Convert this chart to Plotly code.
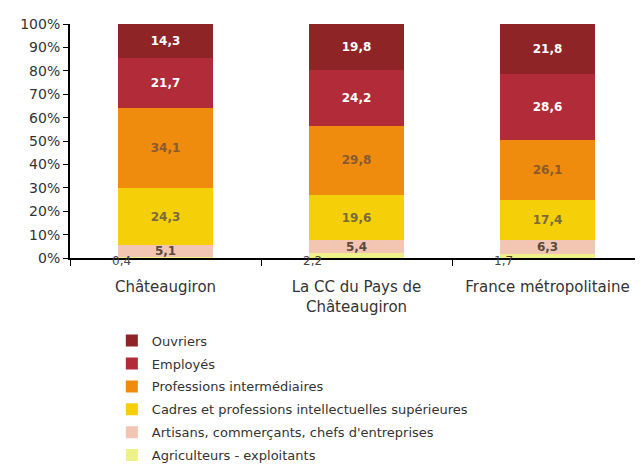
import plotly.graph_objects as go

# Données (en %)
categories = ["Châteaugiron", "La CC du Pays de<br>Châteaugiron", "France métropolitaine"]
agriculteurs = [0.4, 2.2, 1.7]
artisans = [5.1, 5.4, 6.3]
cadres = [24.3, 19.6, 17.4]
prof_inter = [34.1, 29.8, 26.1]
employes = [21.7, 24.2, 28.6]
ouvriers = [14.3, 19.8, 21.8]

series = [
    ("Agriculteurs - exploitants", agriculteurs, "#eef08a", "#555555"),
    ("Artisans, commerçants, chefs d'entreprises", artisans, "#f3c6b3", "#5a4a3a"),
    ("Cadres et professions intellectuelles supérieures", cadres, "#f5cf08", "#7a6a3a"),
    ("Professions intermédiaires", prof_inter, "#ef8b0d", "#8a5a30"),
    ("Employés", employes, "#b12b38", "white"),
    ("Ouvriers", ouvriers, "#8e2426", "white"),
]

FONT = "DejaVu Sans, Arial, sans-serif"

def fmt(v):
    return f"{v:.1f}".replace(".", ",")

fig = go.Figure()
for i, (name, vals, color, tcolor) in enumerate(series):
    fig.add_trace(go.Bar(
        name=name,
        x=categories,
        y=vals,
        marker=dict(color=color, line=dict(width=0)),
        text=[fmt(v) for v in vals],
        textposition="none" if i == 0 else "inside",
        insidetextanchor="middle",
        textangle=0,
        constraintext="none",
        textfont=dict(size=12, color=tcolor, family=FONT, weight="bold"),
        legendgroup=str(i),
        legendrank=len(series) - i,
    ))

# petites valeurs agriculteurs sous l'axe
for cat, v in zip(categories, agriculteurs):
    fig.add_annotation(
        x=cat, y=0, text=fmt(v), showarrow=False,
        xshift=-44, yshift=-3,
        font=dict(size=12, color="#444444", family=FONT),
    )

fig.update_layout(
    width=643, height=472,
    barmode="stack",
    barnorm="percent",
    bargap=0.5,
    paper_bgcolor="white",
    plot_bgcolor="white",
    font=dict(family=FONT, color="#333333", size=12),
    margin=dict(l=62, r=8, t=11, b=222),
    showlegend=True,
    legend=dict(
        traceorder="grouped",
        orientation="v",
        xref="paper", x=0.073, xanchor="left",
        yref="container", y=0.327, yanchor="top",
        font=dict(size=13, color="#333333", family=FONT),
        tracegroupgap=3,
        itemwidth=30,
    ),
    xaxis=dict(
        showline=True, linecolor="black", linewidth=2,
        ticks="outside", tickson="boundaries", ticklen=6, tickcolor="black",
        tickfont=dict(size=15, color="#333333"),
        ticklabelstandoff=14,
    ),
    yaxis=dict(
        range=[0, 100], dtick=10, ticksuffix="%",
        showline=True, linecolor="black", linewidth=2,
        ticks="outside", ticklen=5, tickcolor="black",
        showgrid=False, zeroline=False,
        tickfont=dict(size=14, color="#333333"),
    ),
)

fig.write_html("out.html")
